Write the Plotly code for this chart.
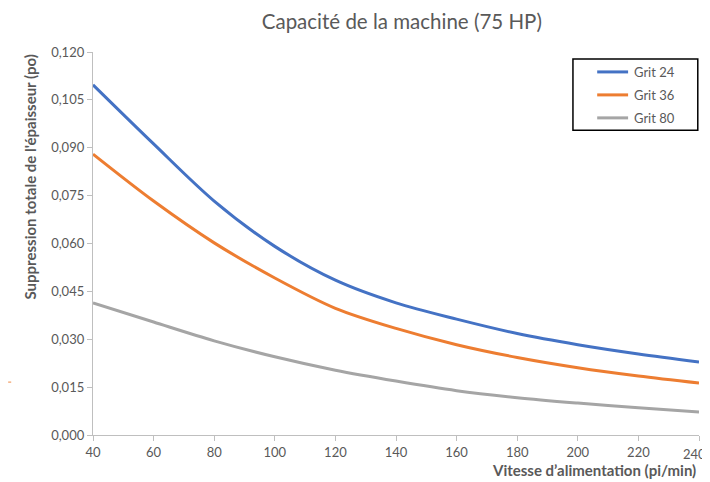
import plotly.graph_objects as go

vitesse = [40, 60, 80, 100, 120, 140, 160, 180, 200, 220, 240]
grit24 = [0.1097, 0.0912, 0.0733, 0.0591, 0.0485, 0.0414, 0.0363, 0.0318, 0.0283, 0.0254, 0.0229]
grit36 = [0.0880, 0.0733, 0.0602, 0.0492, 0.0397, 0.0334, 0.0283, 0.0243, 0.0211, 0.0185, 0.0163]
grit80 = [0.0414, 0.0354, 0.0295, 0.0245, 0.0203, 0.0169, 0.0139, 0.0117, 0.0100, 0.0085, 0.0072]
series_names = ["Grit 24", "Grit 36", "Grit 80"]
colors = ["#4472C4", "#ED7D31", "#A5A5A5"]
y_ticks = [0.0, 0.015, 0.030, 0.045, 0.060, 0.075, 0.090, 0.105, 0.120]
y_labels = ["0,000", "0,015", "0,030", "0,045", "0,060", "0,075", "0,090", "0,105", "0,120"]
x_ticks = [40, 60, 80, 100, 120, 140, 160, 180, 200, 220, 240]
x_labels = [str(v) for v in x_ticks]

FONT = "Lato, 'Open Sans', sans-serif"
GREY = "#595959"

fig = go.Figure()
for name, ys, c in zip(series_names, [grit24, grit36, grit80], colors):
    fig.add_trace(go.Scatter(x=vitesse, y=ys, name=name, mode="lines", showlegend=False,
                             line=dict(color=c, width=3, shape="spline", smoothing=0.9)))

fig.update_layout(
    width=702, height=474,
    margin=dict(l=85, r=11, t=44, b=47, autoexpand=False),
    paper_bgcolor="white", plot_bgcolor="white",
    font=dict(family=FONT, color=GREY, size=12),
    title=dict(text="Capacité de la machine (75 HP)", x=0.561, xanchor="center",
               y=0.970, yanchor="middle", font=dict(size=20.5, color=GREY, family=FONT)),
    showlegend=False,
)
# last tick label ("240") sits at the very edge of the page: drawn right-anchored below
fig.update_xaxes(range=[40, 240], tickvals=x_ticks, ticktext=x_labels[:-1] + [""],
                 showgrid=False, zeroline=False,
                 showline=True, linecolor="#BFBFBF", linewidth=1.3,
                 ticks="outside", ticklen=5, tickcolor="#BFBFBF", automargin=False,
                 tickfont=dict(size=13, color=GREY))
fig.update_yaxes(range=[0, 0.120], tickvals=y_ticks, ticktext=y_labels, showgrid=False,
                 zeroline=False, showline=True, linecolor="#BFBFBF", linewidth=1.3,
                 ticks="outside", ticklen=5, tickcolor="#BFBFBF", automargin=False,
                 tickfont=dict(size=13, color=GREY))
fig.add_annotation(text=x_labels[-1], xref="paper", yref="paper", x=1.0149, y=-0.0496,
                   xanchor="right", yanchor="middle", showarrow=False,
                   font=dict(size=13, color=GREY, family=FONT))

fig.add_annotation(text="<b>Vitesse d’alimentation (pi/min)</b>", xref="paper", yref="paper",
                   x=0.998, y=-0.091, xanchor="right", yanchor="middle", showarrow=False,
                   font=dict(size=15, color=GREY, family=FONT))
fig.add_annotation(text="<b>Suppression totale de l'épaisseur (po)</b>", xref="paper", yref="paper",
                   x=-0.104, y=1.0, xanchor="center", yanchor="top", textangle=-90,
                   showarrow=False, font=dict(size=15, color=GREY, family=FONT))

# legend box drawn manually
fig.add_shape(type="rect", xref="paper", yref="paper", x0=0.792, x1=0.998, y0=0.796, y1=0.982,
              line=dict(color="black", width=1.5), fillcolor="white")
leg_y = [0.948, 0.888, 0.828]
for name, c, ly in zip(series_names, colors, leg_y):
    fig.add_shape(type="line", xref="paper", yref="paper", x0=0.832, x1=0.883, y0=ly, y1=ly,
                  line=dict(color=c, width=3))
    fig.add_annotation(text=name, xref="paper", yref="paper", x=0.889, y=ly,
                       xanchor="left", yanchor="middle", showarrow=False,
                       font=dict(size=13, color=GREY, family=FONT))

# small orange artifact at the left edge
fig.add_shape(type="line", xref="paper", yref="paper", x0=-0.140, x1=-0.135,
              y0=0.138, y1=0.138, line=dict(color="#F4B183", width=1.5))

fig.write_html("out.html")
